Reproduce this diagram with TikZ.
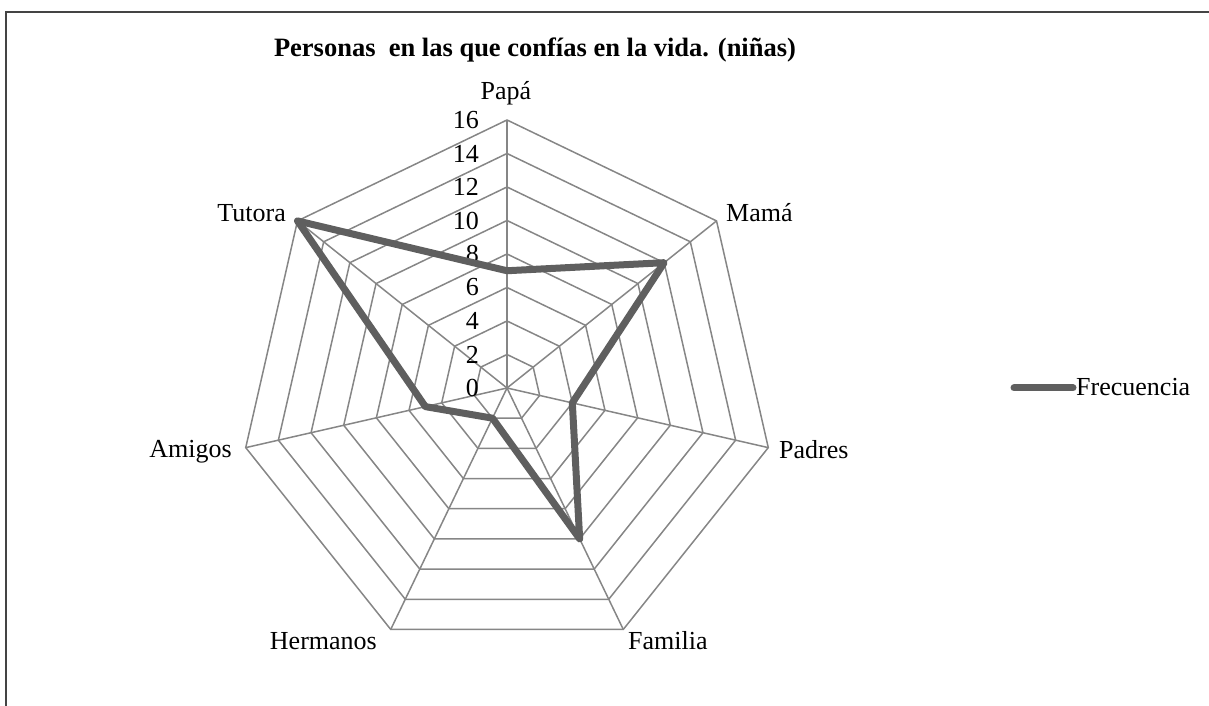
\documentclass[tikz,border=0pt]{standalone}
\usepackage{fontspec}
\setmainfont{Liberation Serif}
\usetikzlibrary{calc}
\definecolor{gridgray}{HTML}{868686}
\definecolor{datagray}{HTML}{5F5F5F}
\definecolor{framegray}{HTML}{444444}
\begin{document}
\begin{tikzpicture}[x=1pt,y=1pt,
  gridline/.style={draw=gridgray,line width=1.5pt},
  dataline/.style={draw=datagray,line width=7pt,line join=round,line cap=round},
  lbl/.style={inner sep=0pt,font=\fontsize{26}{30}\selectfont},
  ticklbl/.style={inner sep=0pt,anchor=east,font=\fontsize{26}{30}\selectfont}]
\useasboundingbox (0,0) rectangle (1209,706);
% frame
\draw[framegray,line width=2pt] (6,0) -- (6,694) -- (1209,694);
\coordinate (C) at (507,318);
% outer vertices
\foreach \i in {0,...,6}{
  \coordinate (v\i) at ($(C)+({90-\i*360/7}:268)$);
}
% rings
\foreach \k in {1,...,8}{
  \draw[gridline,shift={(507,318)}] (90:{\k*33.5})
    \foreach \i in {1,...,6}{ -- ({90-\i*360/7}:{\k*33.5}) } -- cycle;
}
% axes
\foreach \i in {0,...,6}{
  \draw[gridline] (C) -- (v\i);
}
% tick labels
\foreach \k in {0,2,...,16}{
  \node[ticklbl] (t\k) at (479,{318+\k*16.75}) {\k};
}
% data points
\coordinate (d0) at ($(C)+(90:{7*16.75})$);
\coordinate (d1) at ($(C)+({90-360/7}:{12*16.75})$);
\coordinate (d2) at ($(C)+({90-2*360/7}:{4*16.75})$);
\coordinate (d3) at ($(C)+({90-3*360/7}:{10*16.75})$);
\coordinate (d4) at ($(C)+({90-4*360/7}:{2*16.75})$);
\coordinate (d5) at ($(C)+({90-5*360/7}:{5*16.75})$);
\coordinate (d6) at ($(C)+({90-6*360/7}:{16*16.75})$);
\draw[dataline] (d0) -- (d1) -- (d2) -- (d3) -- (d4) -- (d5) -- (d6) -- cycle;
% axis labels
\node[lbl,anchor=base] (papa) at (506,606) {Papá};
\node[lbl,anchor=base west] (mama) at (726,484.3) {Mamá};
\node[lbl,anchor=base west] (padres) at (779,247.7) {Padres};
\node[lbl,anchor=base west] (familia) at (628,56.7) {Familia};
\node[lbl,anchor=base east] (hermanos) at (377,56.7) {Hermanos};
\node[lbl,anchor=base east] (amigos) at (232,248.7) {Amigos};
\node[lbl,anchor=base east] (tutora) at (286,484.3) {Tutora};
% title
\node[lbl,anchor=base,font=\fontsize{26.5}{30}\selectfont\bfseries] (title) at (535,649) {Personas\ \ en las que confías en la vida. (niñas)};
% legend
\coordinate (legA) at (1014,318);
\coordinate (legB) at (1073,318);
\draw[dataline] (legA) -- (legB);
\node[lbl,anchor=base west] (legtext) at (1076,310) {Frecuencia};
\end{tikzpicture}
\end{document}
